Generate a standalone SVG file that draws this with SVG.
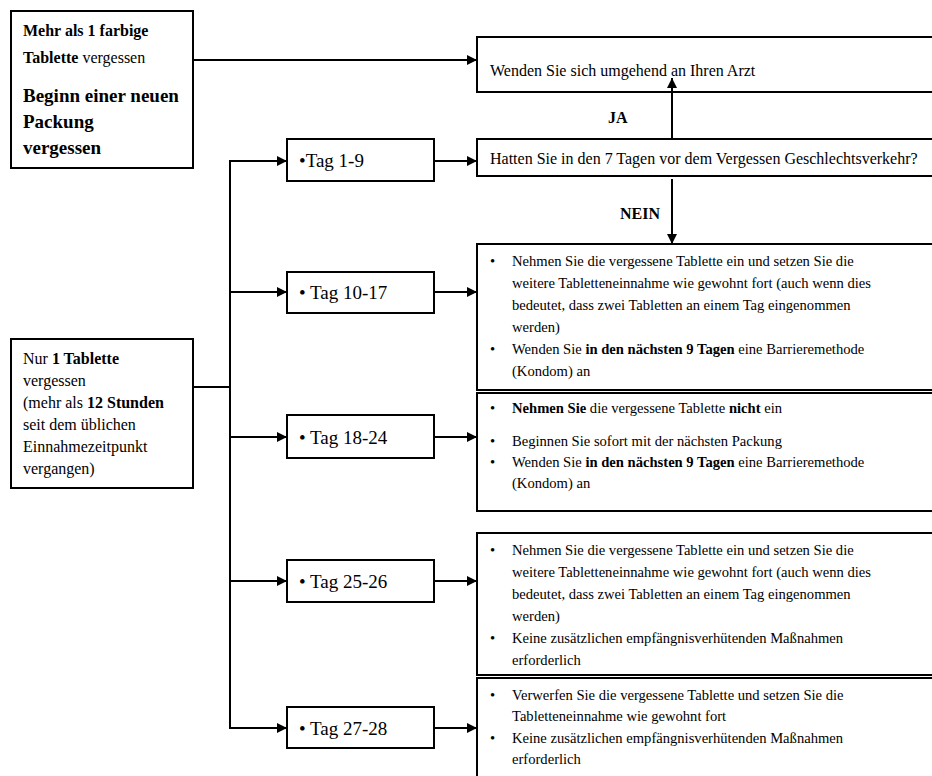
<svg xmlns="http://www.w3.org/2000/svg" width="932" height="776" viewBox="0 0 932 776">
<style>
text{font-family:"Liberation Serif","Times New Roman",serif;fill:#000}
.box{fill:#fff;stroke:#000;stroke-width:2}
.b{font-weight:bold}
.t16{font-size:16px}
.body{font-size:14.6px}
.tag{font-size:19px}
.big{font-size:19px;font-weight:bold}
.conn line{stroke:#000;stroke-width:2;fill:none}
</style>
<defs>
<marker id="ah" markerUnits="userSpaceOnUse" markerWidth="11" markerHeight="11" refX="10" refY="5" orient="auto">
<path d="M0,0 L10,5 L0,10 z" fill="#000"/>
</marker>
</defs>
<rect width="932" height="776" fill="#fff"/>

<g id="n-mehr">
<rect class="box" x="11" y="11" width="182" height="157"/>
<text class="t16 b" x="23" y="36">Mehr als 1 farbige</text>
<text class="t16" x="23" y="63"><tspan class="b">Tablette</tspan> vergessen</text>
<text class="big" x="23" y="102">Beginn einer neuen</text>
<text class="big" x="23" y="128">Packung</text>
<text class="big" x="23" y="154">vergessen</text>
</g>

<g id="n-arzt">
<rect class="box" x="477" y="37" width="470" height="55"/>
<text class="t16" x="490" y="76">Wenden Sie sich umgehend an Ihren Arzt</text>
</g>

<g id="n-hatten">
<rect class="box" x="477" y="139" width="470" height="37"/>
<text class="t16" x="490" y="164">Hatten Sie in den 7 Tagen vor dem Vergessen Geschlechtsverkehr?</text>
</g>

<g id="n-nur">
<rect class="box" x="11" y="339" width="182" height="149"/>
<text class="t16" x="23" y="364">Nur <tspan class="b">1 Tablette</tspan></text>
<text class="t16" x="23" y="386">vergessen</text>
<text class="t16" x="23" y="408">(mehr als <tspan class="b">12 Stunden</tspan></text>
<text class="t16" x="23" y="430">seit dem üblichen</text>
<text class="t16" x="23" y="452">Einnahmezeitpunkt</text>
<text class="t16" x="23" y="474">vergangen)</text>
</g>

<g id="n-tag1-9">
<rect class="box" x="287" y="139" width="147" height="42"/>
<text class="tag" x="299" y="167">•Tag 1-9</text>
</g>
<g id="n-tag10-17">
<rect class="box" x="287" y="272" width="147" height="41"/>
<text class="tag" x="299" y="299">• Tag 10-17</text>
</g>
<g id="n-tag18-24">
<rect class="box" x="287" y="415" width="147" height="43"/>
<text class="tag" x="299" y="444">• Tag 18-24</text>
</g>
<g id="n-tag25-26">
<rect class="box" x="287" y="560" width="147" height="42"/>
<text class="tag" x="299" y="588">• Tag 25-26</text>
</g>
<g id="n-tag27-28">
<rect class="box" x="287" y="707" width="147" height="41"/>
<text class="tag" x="299" y="735">• Tag 27-28</text>
</g>

<g id="n-a">
<rect class="box" x="477" y="244" width="470" height="146"/>
<text class="body" x="490" y="266">•</text>
<text class="body" x="512" y="266">Nehmen Sie die vergessene Tablette ein und setzen Sie die</text>
<text class="body" x="512" y="288">weitere Tabletteneinnahme wie gewohnt fort (auch wenn dies</text>
<text class="body" x="512" y="310">bedeutet, dass zwei Tabletten an einem Tag eingenommen</text>
<text class="body" x="512" y="332">werden)</text>
<text class="body" x="490" y="354">•</text>
<text class="body" x="512" y="354">Wenden Sie <tspan class="b">in den  nächsten 9 Tagen</tspan> eine Barrieremethode</text>
<text class="body" x="512" y="376">(Kondom) an</text>
</g>

<g id="n-b">
<rect class="box" x="477" y="393" width="470" height="118"/>
<text class="body" x="490" y="413">•</text>
<text class="body" x="512" y="413"><tspan class="b">Nehmen Sie</tspan> die vergessene Tablette <tspan class="b">nicht</tspan> ein</text>
<text class="body" x="490" y="446">•</text>
<text class="body" x="512" y="446">Beginnen Sie sofort mit der nächsten Packung</text>
<text class="body" x="490" y="467">•</text>
<text class="body" x="512" y="467">Wenden Sie <tspan class="b">in den nächsten  9 Tagen</tspan> eine Barrieremethode</text>
<text class="body" x="512" y="488">(Kondom) an</text>
</g>

<g id="n-c">
<rect class="box" x="477" y="533" width="470" height="142"/>
<text class="body" x="490" y="555">•</text>
<text class="body" x="512" y="555">Nehmen Sie die vergessene Tablette ein und setzen Sie die</text>
<text class="body" x="512" y="577">weitere Tabletteneinnahme wie gewohnt fort (auch wenn dies</text>
<text class="body" x="512" y="599">bedeutet, dass zwei Tabletten an einem Tag eingenommen</text>
<text class="body" x="512" y="621">werden)</text>
<text class="body" x="490" y="643">•</text>
<text class="body" x="512" y="643">Keine zusätzlichen empfängnisverhütenden Maßnahmen</text>
<text class="body" x="512" y="665">erforderlich</text>
</g>

<g id="n-d">
<rect class="box" x="477" y="678" width="470" height="110"/>
<text class="body" x="490" y="700">•</text>
<text class="body" x="512" y="700">Verwerfen Sie die vergessene Tablette und setzen Sie die</text>
<text class="body" x="512" y="721">Tabletteneinnahme wie gewohnt fort</text>
<text class="body" x="490" y="743">•</text>
<text class="body" x="512" y="743">Keine zusätzlichen empfängnisverhütenden Maßnahmen</text>
<text class="body" x="512" y="764">erforderlich</text>
</g>

<g id="connectors" class="conn">
<line x1="193" y1="60" x2="477" y2="60" marker-end="url(#ah)"/>
<line x1="193" y1="387" x2="230" y2="387"/>
<line x1="230" y1="160" x2="230" y2="729"/>
<line x1="229" y1="161" x2="287" y2="161" marker-end="url(#ah)"/>
<line x1="229" y1="292" x2="287" y2="292" marker-end="url(#ah)"/>
<line x1="229" y1="437" x2="287" y2="437" marker-end="url(#ah)"/>
<line x1="229" y1="581" x2="287" y2="581" marker-end="url(#ah)"/>
<line x1="229" y1="728" x2="287" y2="728" marker-end="url(#ah)"/>
<line x1="434" y1="161" x2="477" y2="161" marker-end="url(#ah)"/>
<line x1="434" y1="292" x2="477" y2="292" marker-end="url(#ah)"/>
<line x1="434" y1="437" x2="477" y2="437" marker-end="url(#ah)"/>
<line x1="434" y1="581" x2="477" y2="581" marker-end="url(#ah)"/>
<line x1="434" y1="728" x2="477" y2="728" marker-end="url(#ah)"/>
<line x1="672" y1="139" x2="672" y2="78" marker-end="url(#ah)"/>
<line x1="672" y1="179" x2="672" y2="244" marker-end="url(#ah)"/>
</g>
<text class="b t16" x="608" y="123">JA</text>
<text class="b t16" x="620" y="219">NEIN</text>
</svg>
